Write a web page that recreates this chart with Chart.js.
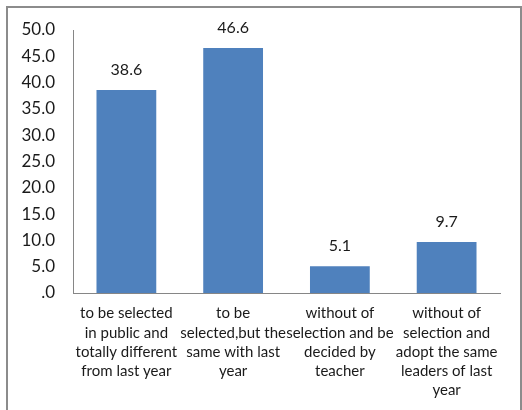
<!DOCTYPE html>
<html>
<head>
<meta charset="utf-8">
<script src="https://cdn.jsdelivr.net/npm/chart.js@4"></script>
<style>
  body { margin: 0; background: #fff; }
  #wrap { position: relative; width: 522px; height: 410px; overflow: hidden; }
  #frame { position: absolute; left: 6px; top: 6px; width: 512px; height: 420px; border: 2px solid #8c8c8c; pointer-events: none; }
  canvas { position: absolute; left: 0; top: 0; }
</style>
</head>
<body>
<div id="wrap">
  <canvas id="barChart" width="522" height="410"></canvas>
  <div id="frame"></div>
</div>
<script>
const categories = [
  ["to be selected", "in public and", "totally different", "from last year"],
  ["to be", "selected,but the", "same with last", "year"],
  ["without of", "selection and be", "decided by", "teacher"],
  ["without of", "selection and", "adopt the same", "leaders of last", "year"]
];
const values = [38.6, 46.6, 5.1, 9.7];
const yTicks = [0, 5, 10, 15, 20, 25, 30, 35, 40, 45, 50];

const fontFamily = "Lato, 'Open Sans', sans-serif";

// numbers above the bars
const valueLabels = {
  id: "valueLabels",
  afterDatasetsDraw(chart) {
    const ctx = chart.ctx;
    const meta = chart.getDatasetMeta(0);
    ctx.save();
    ctx.font = "16px " + fontFamily;
    ctx.fillStyle = "#1a1a1a";
    ctx.textAlign = "center";
    ctx.textBaseline = "middle";
    meta.data.forEach((bar, i) => {
      ctx.fillText(values[i].toFixed(1), bar.x, bar.y - 20);
    });
    ctx.restore();
  }
};

new Chart(document.getElementById("barChart"), {
  type: "bar",
  data: {
    labels: categories,
    datasets: [{
      data: values,
      backgroundColor: "#4f81bd",
      categoryPercentage: 1,
      barPercentage: 0.56
    }]
  },
  options: {
    responsive: false,
    animation: false,
    layout: { padding: { left: 0, top: 30, right: 22, bottom: 0 } },
    plugins: { legend: { display: false }, tooltip: { enabled: false } },
    scales: {
      x: {
        grid: { display: false, drawTicks: false },
        border: { color: "#868686", width: 1 },
        ticks: {
          color: "#1a1a1a",
          font: { family: fontFamily, size: 15, lineHeight: 1.28 },
          padding: 11,
          maxRotation: 0,
          autoSkip: false
        },
        afterFit: (s) => { s.height = 117; }
      },
      y: {
        min: 0,
        max: 50,
        afterBuildTicks: (s) => { s.ticks = yTicks.map((v) => ({ value: v })); },
        grid: { display: false, drawTicks: false },
        border: { color: "#868686", width: 1 },
        ticks: {
          color: "#1a1a1a",
          font: { family: fontFamily, size: 17 },
          padding: 18,
          callback: (v) => (v === 0 ? ".0" : v.toFixed(1))
        },
        afterFit: (s) => { s.width = 73; }
      }
    }
  },
  plugins: [valueLabels]
});
</script>
</body>
</html>
